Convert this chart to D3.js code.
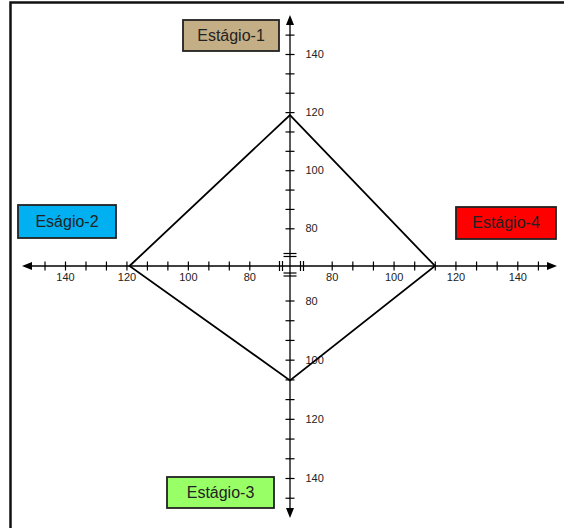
<!DOCTYPE html>
<html>
<head>
<meta charset="utf-8">
<script src="https://cdn.jsdelivr.net/npm/d3@7"></script>
<style>
  body { margin: 0; background: #fff; }
  svg { display: block; font-family: 'Liberation Sans', Arial, sans-serif; }
  .tick text { font-size: 11px; fill: #222; }
</style>
</head>
<body>
<svg id="chart" width="564" height="528"></svg>
<script>
const width = 564
const height = 528
const cx = 290
const cy = 266

// diamond vertices: top, right, bottom, left
const stageValues = [119, 113.4, 107, 119]
const tickValues = [80, 86.67, 93.33, 100, 106.67, 113.33, 120, 126.67, 133.33, 140, 146.67]
const labelValues = [80, 100, 120, 140]
const stageNames = ['Estágio-1', 'Estágio-4', 'Estágio-3', 'Eságio-2']
const stageColors = ['#C4AE86', '#FF0000', '#99FF66', '#00B0F0']

const svg = d3.select('#chart')

// outer frame (only top and left edges are visible)
svg.append('rect')
  .attr('x', 10.5).attr('y', 2.5)
  .attr('width', 600).attr('height', 600)
  .style('fill', 'none')
  .style('stroke', '#111')
  .style('stroke-width', 2.5)

// one scale per half axis
const xRight = d3.scaleLinear().domain([80, 140]).range([331.7, 517.3])
const xLeft = d3.scaleLinear().domain([80, 140]).range([249.3, 65])
const yTop = d3.scaleLinear().domain([80, 140]).range([228.3, 54])
const yBottom = d3.scaleLinear().domain([80, 140]).range([300.5, 478])

let fmt = d => labelValues.some(v => Math.abs(v - d) < 0.01) ? d3.format('d')(d) : ''

// main axis lines
svg.append('line')
  .attr('x1', 26).attr('x2', 552).attr('y1', cy).attr('y2', cy)
  .style('stroke', '#000').style('stroke-width', 1.3)
svg.append('line')
  .attr('x1', cx).attr('x2', cx).attr('y1', 20).attr('y2', 513)
  .style('stroke', '#000').style('stroke-width', 1.3)

let drawAxis = function (axis, transform, horizontal) {
  let g = svg.append('g')
    .attr('transform', transform)
    .call(axis.tickValues(tickValues).tickSize(4.5).tickPadding(horizontal ? 3 : 11).tickFormat(fmt))
  g.select('.domain').remove()
  g.selectAll('.tick line')
    .style('stroke', '#000')
    .style('stroke-width', 1.2)
  if (horizontal) g.selectAll('.tick line').attr('y1', -4.5)
  else g.selectAll('.tick line').attr('x1', -4.5)
  g.selectAll('.tick text').style('font-family', "'Liberation Sans', Arial, sans-serif").style('font-size', '11px')
  return g
}

drawAxis(d3.axisBottom(xRight), `translate(0,${cy})`, true)
drawAxis(d3.axisBottom(xLeft), `translate(0,${cy})`, true)
drawAxis(d3.axisRight(yTop), `translate(${cx},0)`, false)
drawAxis(d3.axisRight(yBottom), `translate(${cx},0)`, false)

// axis break marks
let breaks = svg.append('g').style('stroke', '#000').style('stroke-width', 1.2)
;[279.5, 282.5, 300.5, 303.5].forEach(x => {
  breaks.append('line').attr('x1', x).attr('x2', x).attr('y1', cy - 5).attr('y2', cy + 5)
})
;[253.5, 256.5, 273, 276].forEach(y => {
  breaks.append('line').attr('x1', cx - 6.5).attr('x2', cx + 6.5).attr('y1', y).attr('y2', y)
})

// arrow heads
let arrows = [
  [[cx, 15], [cx - 4, 25], [cx + 4, 25]],
  [[cx, 518], [cx - 4, 508], [cx + 4, 508]],
  [[22, cy], [32, cy - 4], [32, cy + 4]],
  [[557, cy], [547, cy - 4], [547, cy + 4]]
]
svg.append('g').selectAll('path')
  .data(arrows)
  .enter()
  .append('path')
  .attr('d', d => 'M' + d.join('L') + 'Z')
  .style('fill', '#000')

// diamond
let pts = [
  [cx, yTop(stageValues[0])],
  [xRight(stageValues[1]), cy],
  [cx, yBottom(stageValues[2])],
  [xLeft(stageValues[3]), cy]
]
svg.append('path')
  .datum(pts)
  .attr('d', d3.line().curve(d3.curveLinearClosed))
  .style('fill', 'none')
  .style('stroke', '#000')
  .style('stroke-width', 1.8)

// stage labels
const boxes = [
  {x: 183, y: 20, w: 96, h: 31},
  {x: 456, y: 207, w: 100, h: 32},
  {x: 167, y: 477, w: 107, h: 31},
  {x: 18, y: 205, w: 98, h: 33}
]
boxes.forEach((b, i) => {
  svg.append('rect')
    .attr('x', b.x).attr('y', b.y)
    .attr('width', b.w).attr('height', b.h)
    .style('fill', stageColors[i])
    .style('stroke', '#222')
    .style('stroke-width', 1.8)
  svg.append('text')
    .attr('x', b.x + b.w / 2)
    .attr('y', b.y + b.h / 2 + 1)
    .attr('text-anchor', 'middle')
    .attr('dominant-baseline', 'middle')
    .style('font-size', '16px')
    .style('fill', '#222')
    .text(stageNames[i])
})
</script>
</body>
</html>
